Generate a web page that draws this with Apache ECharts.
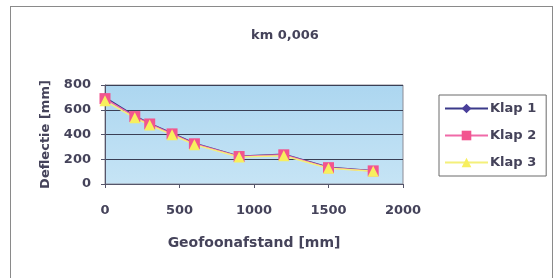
<!DOCTYPE html>
<html>
<head>
<meta charset="utf-8">
<style>
  html, body { margin: 0; padding: 0; background: #fff; }
  #frame { position: absolute; left: 10px; top: 6px; width: 541px; height: 290px; border: 1px solid #8a8a8a; }
  #chart { position: absolute; left: 0; top: 0; width: 556px; height: 278px; }
</style>
</head>
<body>
<div id="frame"></div>
<div id="chart"></div>
<script src="https://cdn.jsdelivr.net/npm/echarts@6/dist/echarts.min.js"></script>
<script>
const distances = [0, 200, 300, 450, 600, 900, 1200, 1500, 1800]
const klap1 = [700, 550, 490, 410, 330, 225, 240, 135, 108]
const klap2 = [690, 545, 485, 405, 325, 222, 236, 132, 106]
const klap3 = [672, 535, 476, 398, 318, 218, 228, 128, 104]
const xTicks = [0, 500, 1000, 1500, 2000]
const yTicks = [0, 200, 400, 600, 800]

const textColor = '#45435a'
const font = 'DejaVu Sans'

function pairs(vals) {
  return distances.map((d, i) => [d, vals[i]])
}

const chart = echarts.init(document.getElementById('chart'))
chart.setOption({
  animation: false,
  title: {
    text: 'km 0,006',
    left: 280,
    top: 24,
    textAlign: 'center',
    textStyle: { fontFamily: font, fontSize: 13, fontWeight: 'bold', color: textColor }
  },
  legend: {
    orient: 'vertical',
    left: 439,
    top: 95,
    width: 108,
    padding: [7, 10, 7, 5],
    itemWidth: 43,
    itemHeight: 12,
    itemGap: 14,
    borderColor: '#6a6a6a',
    borderWidth: 1,
    textStyle: { fontFamily: font, fontSize: 13, fontWeight: 'bold', color: textColor, padding: [0, 0, 0, -3] },
    data: ['Klap 1', 'Klap 2', 'Klap 3']
  },
  grid: {
    left: 105,
    right: 153,
    top: 85,
    bottom: 94,
    show: true,
    borderColor: '#8c8c96',
    borderWidth: 1,
    backgroundColor: new echarts.graphic.LinearGradient(0, 0, 0, 1, [
      { offset: 0, color: '#acd6f0' },
      { offset: 1, color: '#c6e4f5' }
    ])
  },
  xAxis: {
    type: 'value',
    min: xTicks[0],
    max: xTicks[xTicks.length - 1],
    interval: 500,
    name: 'Geofoonafstand [mm]',
    nameLocation: 'middle',
    nameGap: 52,
    nameTextStyle: { fontFamily: font, fontSize: 14, fontWeight: 'bold', color: textColor },
    axisLine: { lineStyle: { color: '#55556a', width: 1 } },
    axisTick: { show: true, length: 4, lineStyle: { color: '#55556a' } },
    axisLabel: {
      margin: 20, fontFamily: font, fontSize: 13, fontWeight: 'bold', color: textColor,
      formatter: v => String(v)
    },
    splitLine: { show: false }
  },
  yAxis: {
    type: 'value',
    min: yTicks[0],
    max: yTicks[yTicks.length - 1],
    interval: 200,
    name: 'Deflectie [mm]',
    nameLocation: 'middle',
    nameGap: 53,
    nameTextStyle: { fontFamily: font, fontSize: 13, fontWeight: 'bold', color: textColor },
    axisLine: { show: true, lineStyle: { color: '#55556a', width: 1 } },
    axisTick: { show: true, length: 4, lineStyle: { color: '#55556a' } },
    axisLabel: {
      margin: 14, fontFamily: font, fontSize: 13, fontWeight: 'bold', color: textColor,
      formatter: v => String(v)
    },
    splitLine: { show: true, lineStyle: { color: '#3a3f55', width: 1.2 } }
  },
  series: [{
    name: 'Klap 1',
    type: 'line',
    data: pairs(klap1),
    symbol: 'diamond',
    symbolSize: 9,
    lineStyle: { color: '#3b3a8a', width: 1.5 },
    itemStyle: { color: '#4a3f9a' }
  }, {
    name: 'Klap 2',
    type: 'line',
    data: pairs(klap2),
    symbol: 'rect',
    symbolSize: 11,
    lineStyle: { color: '#f06aa8', width: 1.5 },
    itemStyle: { color: '#f2558f' }
  }, {
    name: 'Klap 3',
    type: 'line',
    data: pairs(klap3),
    symbol: 'triangle',
    symbolSize: 11,
    lineStyle: { color: '#f4f07a', width: 1.5 },
    itemStyle: { color: '#f7ef5e' }
  }]
})
</script>
</body>
</html>
